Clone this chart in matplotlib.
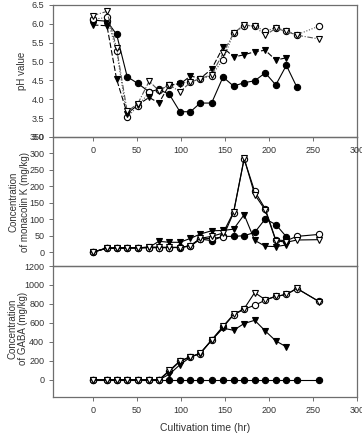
import matplotlib
matplotlib.use("Agg")
import matplotlib.pyplot as plt

plt.rcParams["font.family"] = ["Liberation Sans", "DejaVu Sans"]

# cultivation time (hr)
t = [0, 16, 27, 39, 51, 64, 75, 87, 99, 111, 122, 135, 148, 160, 172, 184, 196, 208, 220, 232, 257]

# pH value
ph_fc = [6.10, 6.07, 5.72, 4.60, 4.42, 4.20, 4.26, 4.13, 3.67, 3.67, 3.90, 3.90, 4.59, 4.35, 4.44, 4.49, 4.70, 4.38, 4.90, 4.32]
ph_oc = [6.12, 6.17, 5.28, 3.52, 3.82, 4.18, 4.25, 4.38, 4.42, 4.47, 4.53, 4.63, 5.05, 5.75, 5.95, 5.95, 5.80, 5.90, 5.81, 5.71, 5.94]
ph_ft = [5.97, 5.95, 4.53, 3.62, 3.85, 4.05, 3.90, 4.38, 4.40, 4.62, 4.55, 4.80, 5.38, 5.12, 5.18, 5.26, 5.30, 5.04, 5.10]
ph_ot = [6.22, 6.33, 5.35, 3.68, 3.88, 4.48, 4.23, 4.38, 4.20, 4.45, 4.55, 4.65, 5.22, 5.75, 5.98, 5.93, 5.70, 5.88, 5.80, 5.70, 5.60]

# monacolin K (mg/kg)
mk_fc = [0, 12, 12, 13, 13, 14, 14, 14, 14, 20, 40, 35, 48, 48, 50, 60, 101, 84, 47]
mk_oc = [0, 13, 13, 13, 13, 14, 14, 14, 15, 18, 40, 42, 46, 120, 283, 185, 132, 37, 35, 48, 54]
mk_ft = [0, 12, 12, 13, 13, 15, 33, 30, 30, 42, 55, 65, 66, 70, 114, 36, 18, 17, 22]
mk_ot = [0, 13, 13, 13, 13, 16, 15, 15, 14, 20, 42, 48, 58, 122, 285, 175, 128, 35, 30, 37, 38]

# GABA (mg/kg)
ga_fc = [0] * 21
ga_oc = [0, 0, 0, 0, 0, 0, 0, 90, 195, 242, 278, 418, 555, 685, 745, 786, 840, 880, 900, 962, 828]
ga_ft = [0, 0, 0, 0, 0, 0, 0, 60, 160, 240, 278, 418, 545, 523, 594, 628, 516, 411, 348]
ga_ot = [0, 0, 0, 0, 0, 0, 0, 100, 200, 245, 280, 420, 565, 690, 750, 920, 845, 880, 900, 965, 825]

GRAY = "#6e6e6e"
TXT = "#333333"

fig = plt.figure(figsize=(3.62, 4.37), dpi=100)
L, W = 53.3 / 362, (356.7 - 53.3) / 362
ax1 = fig.add_axes([L, 1 - 137 / 437, W, 132 / 437])
ax2 = fig.add_axes([L, 1 - 266 / 437, W, 129 / 437])
ax3 = fig.add_axes([L, 1 - 397 / 437, W, 131 / 437])


def series(ax, y, mk, face, ls, lc="black"):
    ax.plot(t[:len(y)], y, ls=ls, color=lc, lw=0.8, marker=mk, ms=4.5,
            mfc=face, mec="black", mew=0.8, clip_on=False, zorder=3)


series(ax1, ph_fc, "o", "black", "-")
series(ax1, ph_oc, "o", "white", (0, (1, 1.5)), "#555555")
series(ax1, ph_ft, "v", "black", (0, (5, 2)))
series(ax1, ph_ot, "v", "white", (0, (5, 1.5, 1, 1.5)), "#555555")

for ax, ys in [(ax2, (mk_fc, mk_oc, mk_ft, mk_ot)), (ax3, (ga_fc, ga_oc, ga_ft, ga_ot))]:
    series(ax, ys[0], "o", "black", "-")
    series(ax, ys[1], "o", "white", "-")
    series(ax, ys[2], "v", "black", "-")
    series(ax, ys[3], "v", "white", "-")

xt = [0, 50, 100, 150, 200, 250, 300]
for ax in (ax1, ax2, ax3):
    ax.set_xlim(-45, 300)
    ax.set_xticks(xt)
    for s in ax.spines.values():
        s.set_color(GRAY)
        s.set_linewidth(0.9)
    ax.tick_params(colors=GRAY, labelcolor=TXT, labelsize=6.5, length=3, width=0.7)

ax1.set_ylim(3.0, 6.5)
ax1.set_yticks([3.0, 3.5, 4.0, 4.5, 5.0, 5.5, 6.0, 6.5])
ax1.set_yticklabels(["3.0", "3.5", "4.0", "4.5", "5.0", "5.5", "6.0", "6.5"])
ax1.set_ylabel("pH value", fontsize=7, color=TXT)
ax1.yaxis.set_label_coords(-0.088, 0.5)

ax2.set_ylim(-42, 350)
ax2.set_yticks([0, 50, 100, 150, 200, 250, 300, 350])
ax2.tick_params(axis="x", bottom=False, labelbottom=False)
ax2.set_ylabel("Concentration\nof monacolin K (mg/kg)", fontsize=7, color=TXT, linespacing=1.15)
ax2.yaxis.set_label_coords(-0.078, 0.5)

ax3.set_ylim(-180, 1200)
ax3.set_yticks([0, 200, 400, 600, 800, 1000, 1200])
ax3.set_ylabel("Concentration\nof GABA (mg/kg)", fontsize=7, color=TXT, linespacing=1.15)
ax3.yaxis.set_label_coords(-0.082, 0.52)
ax3.set_xlabel("Cultivation time (hr)", fontsize=7.5, color=TXT, labelpad=6)

ax1.set_zorder(3)
ax2.set_zorder(2)
ax3.set_zorder(1)
for ax in (ax1, ax2, ax3):
    ax.patch.set_alpha(0)

fig.savefig("out.png", dpi=100)
